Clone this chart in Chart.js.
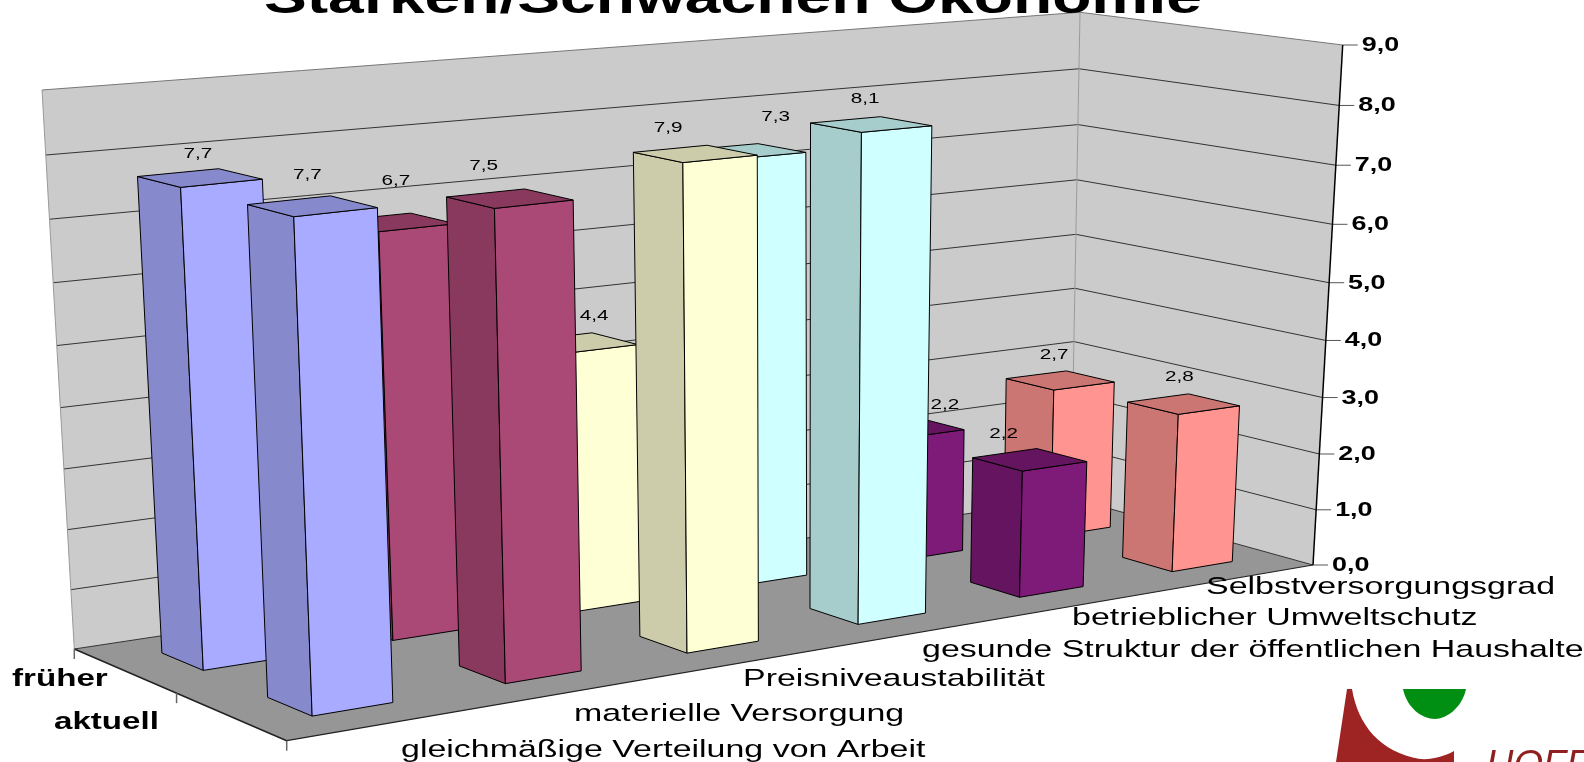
<!DOCTYPE html>
<html>
<head>
<meta charset="utf-8">
<title>Stärken/Schwächen Ökonomie</title>
<script src="https://cdn.jsdelivr.net/npm/chart.js@4"></script>
<style>
    html, body { margin: 0; padding: 0; background: #fff; overflow: hidden; }
    #box { width: 1584px; height: 762px; }
</style>
</head>
<body>
<div id="box"><canvas id="barChart"></canvas></div>
<script>
const chartTitle = "Stärken/Schwächen Ökonomie";
const categories = [
    "gleichmäßige Verteilung von Arbeit",
    "materielle Versorgung",
    "Preisniveaustabilität",
    "gesunde Struktur der öffentlichen Haushalte",
    "betrieblicher Umweltschutz",
    "Selbstversorgungsgrad"
];
const seriesNames = ["früher", "aktuell"];
const frueher = [7.7, 6.7, 4.4, 7.3, 2.2, 2.7];
const aktuell = [7.7, 7.5, 7.9, 8.1, 2.2, 2.8];
const valueTicks = ["0,0", "1,0", "2,0", "3,0", "4,0", "5,0", "6,0", "7,0", "8,0", "9,0"];
const barColors = ["#A8ABFF", "#AB4976", "#FFFFD6", "#CFFFFF", "#7E1A78", "#FF9490"];
const sideColors = ["#8689CC", "#89395E", "#CCCCAB", "#A6CCCC", "#65155F", "#CC7673"];

// corners of the 3D box as they sit in the picture: front left, front right, back right, back left
const floorCorners = [[286.7, 740.7], [1313, 565], [1071, 498], [74.3, 649]];
const topCorners = [[264, 143], [1342.7, 45], [1080, 12.3], [42, 90]];
const heightBend = 0.95;   // values spread out a little towards the top

const depthHalf = 0.1;     // half a bar along the depth axis
const textStretch = 1.38;  // the slide text is stretched sideways

const catLabelLeft = [401, 574, 743, 922, 1072, 1206];
const catLabelBase = [757, 721, 686, 657, 625, 594];
const seriesLabelLeft = [12, 54];
const seriesLabelBase = [686, 729];
// the value labels were moved by hand in the original
const labelNudgeX = [[-2, 1, 15, 28, 36, -6], [-5, -26, -27, -6, -26, -4]];
const labelNudgeY = [[3, -14, 0, -7, 4, 2], [-4, -5, 1, 2, 1, 0]];

// unit square -> floor quad
function makeQuad(corners) {
    const [[x0, y0], [x1, y1], [x2, y2], [x3, y3]] = corners;
    const dx1 = x1 - x2, dx2 = x3 - x2, sx = x0 - x1 + x2 - x3;
    const dy1 = y1 - y2, dy2 = y3 - y2, sy = y0 - y1 + y2 - y3;
    const det = dx1 * dy2 - dx2 * dy1;
    const g = (sx * dy2 - dx2 * sy) / det;
    const h = (dx1 * sy - sx * dy1) / det;
    const a = x1 - x0 + g * x1, b = x3 - x0 + h * x3;
    const d = y1 - y0 + g * y1, e = y3 - y0 + h * y3;
    return (X, Y) => {
        const w = g * X + h * Y + 1;
        return [(a * X + b * Y + x0) / w, (d * X + e * Y + y0) / w];
    };
}
const floorAt = makeQuad(floorCorners);
const riseAt = floorCorners.map((c, i) => [topCorners[i][0] - c[0], topCorners[i][1] - c[1]]);

// X: left to right, Y: front to back, Z: floor to top, all 0..1
function project(X, Y, Z) {
    const p = floorAt(X, Y);
    const t = Z * heightBend / (1 - Z + Z * heightBend);
    const mix = k => (1 - Y) * ((1 - X) * riseAt[0][k] + X * riseAt[1][k]) + Y * ((1 - X) * riseAt[3][k] + X * riseAt[2][k]);
    return [p[0] + mix(0) * t, p[1] + mix(1) * t];
}

function poly(ctx, pts, fill, stroke, lw) {
    ctx.beginPath();
    pts.forEach((p, i) => i ? ctx.lineTo(p[0], p[1]) : ctx.moveTo(p[0], p[1]));
    ctx.closePath();
    if (fill) { ctx.fillStyle = fill; ctx.fill(); }
    if (stroke) { ctx.strokeStyle = stroke; ctx.lineWidth = lw || 1; ctx.stroke(); }
}

function line(ctx, a, b, color, lw) {
    ctx.beginPath();
    ctx.moveTo(a[0], a[1]);
    ctx.lineTo(b[0], b[1]);
    ctx.strokeStyle = color;
    ctx.lineWidth = lw || 1;
    ctx.stroke();
}

function wideText(ctx, text, x, y, font, align, color) {
    ctx.save();
    ctx.font = font;
    ctx.fillStyle = color || "#000";
    ctx.textAlign = align || "left";
    ctx.textBaseline = "alphabetic";
    ctx.translate(x, y);
    ctx.scale(textStretch, 1);
    ctx.fillText(text, 0, 0);
    ctx.restore();
}

function drawLogo(ctx) {
    ctx.fillStyle = "#008F12";
    ctx.beginPath();
    ctx.moveTo(1403, 689);
    ctx.lineTo(1466, 689);
    ctx.bezierCurveTo(1462, 708, 1446, 719, 1435, 719);
    ctx.bezierCurveTo(1422, 719, 1407, 708, 1403, 689);
    ctx.fill();
    ctx.fillStyle = "#9E2424";
    ctx.beginPath();
    ctx.moveTo(1347, 689);
    ctx.lineTo(1352, 689);
    ctx.bezierCurveTo(1358, 725, 1380, 752, 1420, 759);
    ctx.bezierCurveTo(1432, 760, 1445, 756, 1454, 751);
    ctx.lineTo(1454, 762);
    ctx.lineTo(1336, 762);
    ctx.closePath();
    ctx.fill();
    ctx.fillStyle = "#8E2020";
    ctx.font = "italic 38px 'Liberation Sans'";
    ctx.textAlign = "left";
    ctx.textBaseline = "alphabetic";
    ctx.fillText("HOFF", 1486, 777);
}

const box3d = {
    id: "box3d",
    beforeDatasetsDraw(chart) {
        const ctx = chart.ctx;
        const area = chart.chartArea;
        const xScale = chart.scales.x;
        const yScale = chart.scales.y;
        const toZ = v => (area.bottom - yScale.getPixelForValue(v)) / area.height;

        ctx.save();
        // walls and floor
        poly(ctx, [project(0, 1, 0), project(1, 1, 0), project(1, 1, 1), project(0, 1, 1)], "#CBCBCB");
        poly(ctx, [project(1, 1, 0), project(1, 0, 0), project(1, 0, 1), project(1, 1, 1)], "#CBCBCB");
        poly(ctx, [project(0, 0, 0), project(1, 0, 0), project(1, 1, 0), project(0, 1, 0)], "#969696");

        // gridlines and value axis
        yScale.ticks.forEach(t => {
            const z = toZ(t.value);
            const top = z >= 1;
            line(ctx, project(0, 1, z), project(1, 1, z), top ? "#777" : "#333");
            line(ctx, project(1, 1, z), project(1, 0, z), top ? "#777" : "#333");
            const p = project(1, 0, z);
            line(ctx, p, [p[0] + 15, p[1]], "#555");
            wideText(ctx, t.label, p[0] + 19, p[1] + 6, "bold 19.5px 'Liberation Sans'");
        });
        line(ctx, project(0, 1, 0), project(0, 1, 1), "#999");
        line(ctx, project(1, 1, 0), project(1, 1, 1), "#999");
        line(ctx, project(1, 0, 0), project(1, 0, 1), "#000", 1.5);
        line(ctx, project(0, 1, 0), project(0, 0, 0), "#222", 1.5);
        line(ctx, project(0, 0, 0), project(1, 0, 0), "#222", 1.2);

        // depth axis ticks
        [1, 0.5, 0].forEach(y => {
            const p = project(0, y, 0);
            line(ctx, p, [p[0], p[1] + 10], "#666", 1.5);
        });

        // bars: back row first, right to left, left side and top faces in the darker shade
        const labels = [];
        chart.data.datasets.forEach((ds, di) => {
            const meta = chart.getDatasetMeta(di);
            const yMid = 1 - (di + 0.5) / chart.data.datasets.length;
            for (let i = meta.data.length - 1; i >= 0; i--) {
                const bar = meta.data[i];
                const x0 = (bar.x - bar.width / 2 - area.left) / area.width;
                const x1 = (bar.x + bar.width / 2 - area.left) / area.width;
                const y0 = yMid - depthHalf, y1 = yMid + depthHalf;
                const z = (area.bottom - bar.y) / area.height;
                poly(ctx, [project(x0, y1, 0), project(x0, y0, 0), project(x0, y0, z), project(x0, y1, z)], sideColors[i], "#000");
                poly(ctx, [project(x0, y0, 0), project(x1, y0, 0), project(x1, y0, z), project(x0, y0, z)], barColors[i], "#000");
                poly(ctx, [project(x0, y0, z), project(x1, y0, z), project(x1, y1, z), project(x0, y1, z)], sideColors[i], "#000");
                const c = project((x0 + x1) / 2, yMid, z);
                labels.push([ds.data[i].toFixed(1).replace(".", ","), c[0] + labelNudgeX[di][i], c[1] - 23 + labelNudgeY[di][i]]);
            }
        });

        // value labels
        labels.forEach(l => wideText(ctx, l[0], l[1], l[2], "15px 'Liberation Sans'", "center", "#000"));

        // axis names
        xScale.ticks.forEach((t, i) => {
            wideText(ctx, t.label, catLabelLeft[i], catLabelBase[i], "24.6px 'Liberation Sans'");
        });
        chart.data.datasets.forEach((ds, di) => {
            wideText(ctx, ds.label, seriesLabelLeft[di], seriesLabelBase[di], "bold 24px 'Liberation Sans'");
        });

        wideText(ctx, chartTitle, 733, 13, "bold 46.5px 'Liberation Sans'", "center");
        drawLogo(ctx);
        ctx.restore();
        return false;
    }
};

new Chart(document.getElementById("barChart").getContext("2d"), {
    type: "bar",
    data: {
        labels: categories,
        datasets: [
            { label: seriesNames[0], data: frueher, backgroundColor: barColors, grouped: false },
            { label: seriesNames[1], data: aktuell, backgroundColor: barColors, grouped: false }
        ]
    },
    options: {
        responsive: true,
        maintainAspectRatio: false,
        animation: false,
        layout: { padding: 0 },
        barPercentage: 0.41,
        categoryPercentage: 1,
        plugins: { legend: { display: false }, tooltip: { enabled: false } },
        scales: {
            x: { display: false },
            y: {
                display: false,
                min: 0,
                max: 9,
                ticks: { stepSize: 1, callback: (value, index) => valueTicks[index] }
            }
        }
    },
    plugins: [box3d]
});
</script>
</body>
</html>
